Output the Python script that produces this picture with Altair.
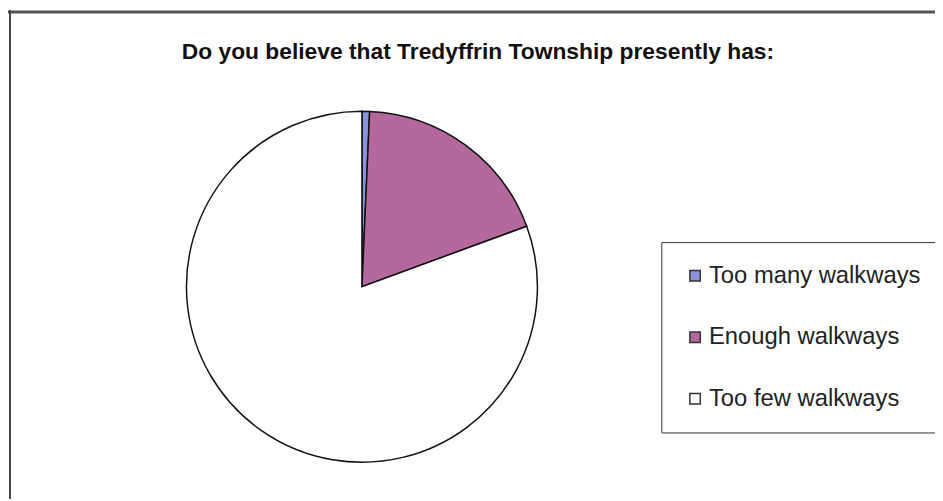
import altair as alt
import pandas as pd

categories = ["Too many walkways", "Enough walkways", "Too few walkways"]
shares = [0.7, 18.7, 80.6]
colors = ["#8a94d8", "#b5689e", "#ffffff"]
title_text = "Do you believe that Tredyffrin Township presently has:"

df = pd.DataFrame({"answer": categories, "share": shares, "order": [0, 1, 2]})

W, H = 935, 493

pie = alt.Chart(df).mark_arc(stroke="#111111", strokeWidth=1.5, radius=177).encode(
    theta=alt.Theta("share:Q", stack=True),
    order=alt.Order("order:Q"),
    color=alt.Color(
        "answer:N",
        sort=categories,
        scale=alt.Scale(domain=categories, range=colors),
        legend=alt.Legend(
            title=None,
            orient="none",
            legendX=659,
            legendY=234,
            symbolType="square",
            symbolSize=110,
            symbolStrokeColor="#333333",
            symbolStrokeWidth=1.5,
            labelFont="Liberation Sans",
            labelFontSize=24,
            labelColor="#222222",
            labelOffset=2,
            rowPadding=38,
            padding=22,
            strokeColor="#333333",
            fillColor="#ffffff",
            labelLimit=400,
        ),
    ),
    x=alt.value(357),
    y=alt.value(279),
)

title = alt.Chart(pd.DataFrame({"t": [title_text]})).mark_text(
    font="Liberation Sans",
    fontSize=23,
    fontWeight="bold",
    color="#111111",
    align="center",
    baseline="middle",
).encode(text="t:N", x=alt.value(474), y=alt.value(42))

frame_top = alt.Chart(pd.DataFrame({"a": [0]})).mark_rule(color="#555555", strokeWidth=3).encode(
    x=alt.value(0), x2=alt.value(W), y=alt.value(2)
)
frame_left = alt.Chart(pd.DataFrame({"a": [0]})).mark_rule(color="#444444", strokeWidth=2).encode(
    x=alt.value(2), y=alt.value(0), y2=alt.value(H)
)

chart = alt.layer(frame_top, frame_left, pie, title).properties(
    width=W, height=H, autosize=alt.AutoSizeParams(type="none"), padding=0
).configure_view(stroke=None)

chart.save("out.html", embed_options={"renderer": "svg", "actions": False})
